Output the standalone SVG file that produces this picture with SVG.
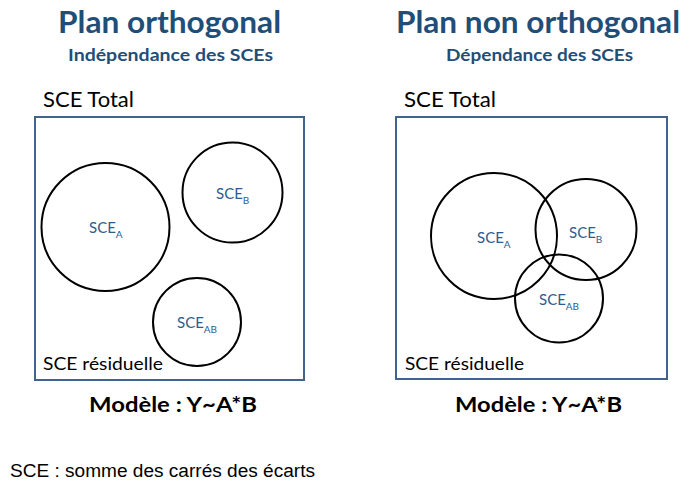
<svg xmlns="http://www.w3.org/2000/svg" width="694" height="484" viewBox="0 0 694 484">
<style>
.title{font-family:Lato,"Open Sans","Liberation Sans",sans-serif;font-weight:bold;fill:#1F4E79;font-size:31px}
.sub{font-family:Lato,"Open Sans","Liberation Sans",sans-serif;font-weight:bold;fill:#1F4E79;font-size:17px}
.lbl{font-family:Lato,"Open Sans","Liberation Sans",sans-serif;fill:#000;font-size:21px}
.res{font-family:Lato,"Open Sans","Liberation Sans",sans-serif;fill:#000;font-size:17px}
.sce{font-family:Lato,"Open Sans","Liberation Sans",sans-serif;fill:#2E5C8E;font-size:15px}
.sb{font-size:10px}
.mod{font-family:Lato,"Open Sans","Liberation Sans",sans-serif;font-weight:bold;fill:#000;font-size:20px}
.foot{font-family:"Liberation Sans",Arial,sans-serif;fill:#000;font-size:18px}
.box{fill:none;stroke:#41648F;stroke-width:2}
.c{fill:none;stroke:#000;stroke-width:2}
</style>
<g id="left">
<text class="title" x="58" y="33" textLength="223" lengthAdjust="spacingAndGlyphs">Plan orthogonal</text>
<text class="sub" x="68" y="61" textLength="205" lengthAdjust="spacingAndGlyphs">Indépendance des SCEs</text>
<text class="lbl" x="43" y="107" textLength="91" lengthAdjust="spacingAndGlyphs">SCE Total</text>
<rect id="left-box" class="box" x="35" y="117" width="269" height="263"/>
<g id="left-A"><circle class="c" cx="105.5" cy="227" r="64"/><text class="sce" x="89" y="233">SCE<tspan class="sb" dy="5">A</tspan></text></g>
<g id="left-B"><circle class="c" cx="232.5" cy="192.5" r="50"/><text class="sce" x="216" y="199">SCE<tspan class="sb" dy="5">B</tspan></text></g>
<g id="left-AB"><circle class="c" cx="197" cy="322" r="44"/><text class="sce" x="177" y="328">SCE<tspan class="sb" dy="5">AB</tspan></text></g>
<text class="res" x="43" y="370" textLength="120" lengthAdjust="spacingAndGlyphs">SCE résiduelle</text>
<text class="mod" x="89" y="412" textLength="168" lengthAdjust="spacingAndGlyphs">Modèle : Y~A*B</text>
</g>
<g id="right">
<text class="title" x="396" y="33" textLength="284" lengthAdjust="spacingAndGlyphs">Plan non orthogonal</text>
<text class="sub" x="446" y="61" textLength="187" lengthAdjust="spacingAndGlyphs">Dépendance des SCEs</text>
<text class="lbl" x="404" y="107" textLength="92" lengthAdjust="spacingAndGlyphs">SCE Total</text>
<rect id="right-box" class="box" x="396" y="117" width="271" height="262"/>
<g id="right-A"><circle class="c" cx="494" cy="236" r="63"/><text class="sce" x="477" y="243">SCE<tspan class="sb" dy="5">A</tspan></text></g>
<g id="right-B"><circle class="c" cx="586" cy="229.5" r="50.5"/><text class="sce" x="569" y="238">SCE<tspan class="sb" dy="5">B</tspan></text></g>
<g id="right-AB"><circle class="c" cx="559" cy="298.5" r="44"/><text class="sce" x="539" y="305">SCE<tspan class="sb" dy="5">AB</tspan></text></g>
<text class="res" x="405" y="370" textLength="119" lengthAdjust="spacingAndGlyphs">SCE résiduelle</text>
<text class="mod" x="455" y="412" textLength="167" lengthAdjust="spacingAndGlyphs">Modèle : Y~A*B</text>
</g>
<g id="connectors"></g>
<text class="foot" x="10" y="477" textLength="305" lengthAdjust="spacingAndGlyphs">SCE : somme des carrés des écarts</text>
</svg>
